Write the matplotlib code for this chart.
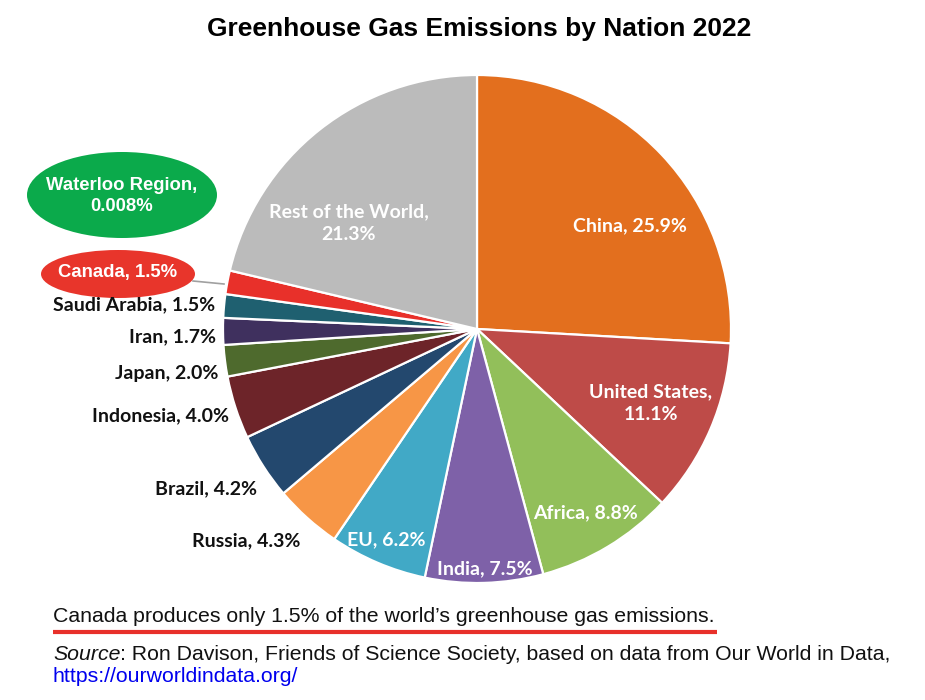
from matplotlib import pyplot as plt
from matplotlib.patches import Ellipse

# Data
nations = ["China", "United States", "Africa", "India", "EU", "Russia", "Brazil",
           "Indonesia", "Japan", "Iran", "Saudi Arabia", "Canada", "Rest of the World"]
shares = [25.9, 11.1, 8.8, 7.5, 6.2, 4.3, 4.2, 4.0, 2.0, 1.7, 1.5, 1.5, 21.3]
waterloo_share = 0.008

colors = ["#E36F1E", "#BE4B48", "#92BF5A", "#7E61A8", "#41A9C6", "#F79646", "#23486E",
          "#6D2429", "#4E6A2D", "#3F305E", "#1F6070", "#E8302A", "#BBBBBB"]

W, H = 925, 700


def Y(py):
    # pixel row (from top) -> data y
    return H - py


# label layout: (x, y, ha, color)
label_pos = {
    "China": (630, 226, "center", "white"),
    "United States": (651, 403, "center", "white"),
    "Africa": (585, 513, "center", "white"),
    "India": (485, 569, "center", "white"),
    "EU": (386, 540, "center", "white"),
    "Russia": (300, 541, "right", "#111111"),
    "Brazil": (257, 489, "right", "#111111"),
    "Indonesia": (229, 416, "right", "#111111"),
    "Japan": (218, 374, "right", "#111111"),
    "Iran": (216, 337, "right", "#111111"),
    "Saudi Arabia": (215, 305, "right", "#111111"),
    "Rest of the World": (349, 223, "center", "white"),
}

fig = plt.figure(figsize=(W / 100, H / 100), dpi=100)
ax = fig.add_axes([0, 0, 1, 1])

ax.pie(shares, colors=colors, startangle=90, counterclock=False,
       center=(477, Y(329)), radius=254,
       wedgeprops=dict(edgecolor="white", linewidth=1.6))
ax.set_xlim(0, W)
ax.set_ylim(0, H)
ax.set_aspect("equal")
ax.axis("off")

lab_font = ["Lato", "DejaVu Sans"]
for name, val in zip(nations, shares):
    if name not in label_pos:
        continue
    x, y, ha, c = label_pos[name]
    if name in ("United States", "Rest of the World"):
        txt = f"{name},\n{val}%"
    else:
        txt = f"{name}, {val}%"
    ax.text(x, Y(y), txt, ha=ha, va="center", color=c, fontsize=14,
            fontweight="bold", family=lab_font, linespacing=1.4)

# Canada callout
ax.plot([193, 224], [Y(281), Y(284)], color="#A0A0A0", lw=1.2)
ax.add_patch(Ellipse((118, Y(274)), 154, 48, facecolor="#E8352B", edgecolor="none"))
ax.text(118, Y(273), f"Canada, {shares[nations.index('Canada')]}%", ha="center",
        va="center", color="white", fontsize=13.3, fontweight="bold",
        family=["Liberation Sans"])

# Waterloo callout
ax.add_patch(Ellipse((122, Y(195)), 190, 86, facecolor="#0BAA4B", edgecolor="none"))
ax.text(122, Y(196), f"Waterloo Region,\n{waterloo_share}%", ha="center", va="center",
        color="white", fontsize=13.3, fontweight="bold", family=["Liberation Sans"],
        linespacing=1.3)

# Title
ax.text(479, Y(29), "Greenhouse Gas Emissions by Nation 2022", ha="center", va="center",
        fontsize=19, fontweight="bold", family=["Liberation Sans"])

# Caption
fs = 15.3
ax.text(53, Y(616), "Canada produces only 1.5% of the world\u2019s greenhouse gas emissions.",
        ha="left", va="center", fontsize=fs, family=["Liberation Sans"], color="#111111")
ax.plot([53, 717], [Y(632), Y(632)], color="#E8302A", lw=3, solid_capstyle="butt")

src = ax.text(53, Y(654), "Source", ha="left", va="center", fontsize=fs, style="italic",
              family=["Liberation Sans"], color="#111111")
ax.annotate(": Ron Davison, Friends of Science Society, based on data from Our World in Data,",
            xy=(1, 0.5), xycoords=src, ha="left", va="center", fontsize=fs,
            family=["Liberation Sans"], color="#111111")
ax.text(53, Y(677), "https://ourworldindata.org/", ha="left", va="center", fontsize=fs,
        family=["Liberation Sans"], color="#0000EE")

fig.savefig("out.png", dpi=100)
